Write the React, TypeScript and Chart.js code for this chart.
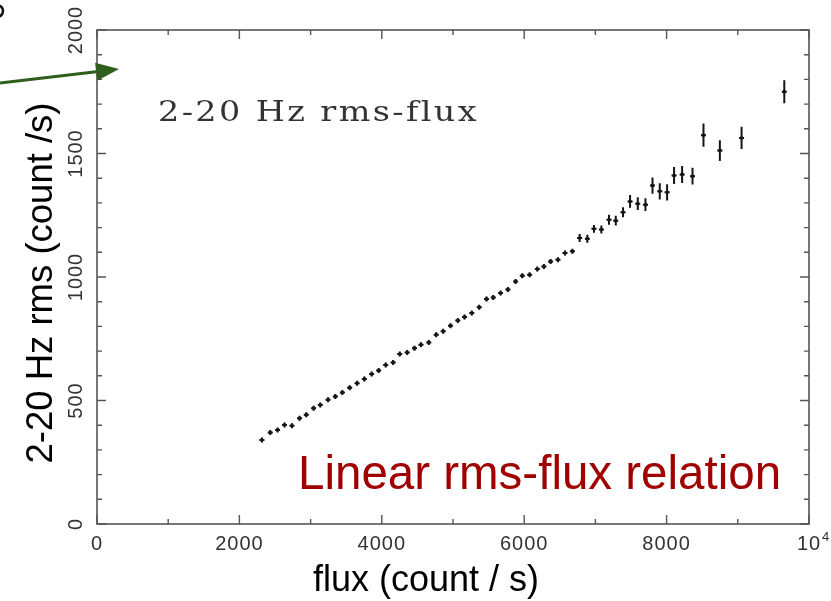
import React, { useEffect, useRef } from 'react';
import { Chart, registerables } from 'chart.js';

Chart.register(...registerables);

// ---- data ----
const flux = [
  2316, 2433, 2536, 2634, 2738, 2845, 2939, 3042, 3136, 3245,
  3347, 3446, 3549, 3653, 3755, 3858, 3956, 4055, 4159, 4252,
  4356, 4459, 4550, 4660, 4764, 4862, 4965, 5068, 5162, 5264,
  5368, 5471, 5565, 5668, 5771, 5879, 5973, 6076, 6184, 6277,
  6371, 6474, 6573, 6677, 6779, 6887, 6980, 7084, 7191, 7286,
  7388, 7487, 7595, 7703, 7802, 7904, 8007, 8105, 8218, 8364,
  8518, 8748, 9053, 9653,
];
const rms = [
  340, 370, 381, 401, 398, 428, 442, 469, 482, 503,
  516, 532, 552, 570, 587, 607, 621, 644, 654, 688,
  694, 712, 726, 735, 766, 780, 803, 824, 838, 854,
  878, 911, 917, 935, 949, 982, 1005, 1009, 1032, 1043,
  1063, 1070, 1097, 1104, 1158, 1155, 1195, 1192, 1232, 1228,
  1262, 1306, 1297, 1293, 1370, 1347, 1343, 1411, 1415, 1408,
  1574, 1512, 1563, 1750,
];
const rmsErr = [
  6, 6, 6, 6, 6, 6, 6, 6, 6, 6,
  6, 6, 6, 6, 6, 6, 6, 6, 6, 6,
  8, 8, 8, 8, 8, 8, 8, 8, 8, 8,
  8, 8, 8, 8, 8, 10, 10, 10, 10, 10,
  10, 10, 10, 10, 16, 16, 16, 16, 20, 20,
  20, 26, 26, 26, 33, 33, 33, 34, 34, 34,
  47, 42, 45, 47,
];

const xTickValues = [0, 2000, 4000, 6000, 8000, 10000];
const xTickLabels = ['0', '2000', '4000', '6000', '8000', '10^4'];
const yTickValues = [0, 500, 1000, 1500, 2000];
const yTickLabels = ['0', '500', '1000', '1500', '2000'];
const xMinorStep = 1000;
const yMinorStep = 100;

const panelLabel = '2-20 Hz rms-flux';
const annotationText = 'Linear rms-flux relation';
const xTitle = 'flux (count / s)';
const yTitle = '2-20 Hz rms (count /s)';

const TICK_FONT = '20px "Liberation Sans", Arial, sans-serif';

const decorPlugin = {
  id: 'decor',
  afterDatasetsDraw(chart: any) {
    const { ctx, chartArea: a } = chart;
    const x = chart.scales.x;
    const y = chart.scales.y;
    ctx.save();

    // error bars + small horizontal marks
    ctx.strokeStyle = '#151515';
    ctx.lineWidth = 2;
    for (let i = 0; i < flux.length; i++) {
      const px = x.getPixelForValue(flux[i]);
      const py = y.getPixelForValue(rms[i]);
      const top = Math.min(y.getPixelForValue(rms[i] + rmsErr[i]), py - 2.5);
      const bot = Math.max(y.getPixelForValue(rms[i] - rmsErr[i]), py + 2.5);
      ctx.beginPath();
      ctx.moveTo(px, top);
      ctx.lineTo(px, bot);
      ctx.moveTo(px - 2.5, py);
      ctx.lineTo(px + 2.5, py);
      ctx.stroke();
    }

    // frame
    ctx.strokeStyle = '#555';
    ctx.lineWidth = 1.6;
    ctx.strokeRect(a.left, a.top, a.right - a.left, a.bottom - a.top);

    // inward ticks on all four sides
    ctx.lineWidth = 1.4;
    ctx.beginPath();
    for (let v = x.min; v <= x.max; v += xMinorStep) {
      const px = x.getPixelForValue(v);
      const len = xTickValues.includes(v) ? 9 : 5;
      ctx.moveTo(px, a.bottom);
      ctx.lineTo(px, a.bottom - len);
      ctx.moveTo(px, a.top);
      ctx.lineTo(px, a.top + len);
    }
    for (let v = y.min; v <= y.max; v += yMinorStep) {
      const py = y.getPixelForValue(v);
      const len = yTickValues.includes(v) ? 9 : 5;
      ctx.moveTo(a.left, py);
      ctx.lineTo(a.left + len, py);
      ctx.moveTo(a.right, py);
      ctx.lineTo(a.right - len, py);
    }
    ctx.stroke();

    // x tick labels
    ctx.fillStyle = '#333';
    ctx.font = TICK_FONT;
    ctx.textAlign = 'center';
    ctx.textBaseline = 'alphabetic';
    (ctx as any).letterSpacing = '1px';
    xTickValues.forEach((v, i) => {
      const px = x.getPixelForValue(v);
      const lab = xTickLabels[i];
      if (lab.includes('^')) {
        const [base, sup] = lab.split('^');
        ctx.textAlign = 'center';
        ctx.fillText(base, px, 550);
        const w = ctx.measureText(base).width;
        ctx.font = '13px "Liberation Sans", Arial, sans-serif';
        ctx.textAlign = 'left';
        ctx.fillText(sup, px + w / 2 + 1, 541);
        ctx.font = TICK_FONT;
        ctx.textAlign = 'center';
      } else {
        ctx.fillText(lab, px, 550);
      }
    });

    // y tick labels (rotated)
    yTickValues.forEach((v, i) => {
      const py = y.getPixelForValue(v);
      ctx.save();
      ctx.translate(82, py);
      ctx.rotate(-Math.PI / 2);
      ctx.textAlign = 'center';
      ctx.fillText(yTickLabels[i], 0, 0);
      ctx.restore();
    });
    (ctx as any).letterSpacing = '0px';

    // axis titles
    ctx.fillStyle = '#000';
    ctx.font = '36px "Liberation Sans", Arial, sans-serif';
    ctx.textAlign = 'center';
    ctx.fillText(xTitle, 426, 591);
    ctx.save();
    ctx.translate(52, 283);
    ctx.rotate(-Math.PI / 2);
    ctx.font = '36.5px "Liberation Sans", Arial, sans-serif';
    ctx.fillText(yTitle, 0, 0);
    ctx.restore();

    // panel label (wide serif)
    ctx.save();
    ctx.fillStyle = '#333';
    ctx.font = '28px "DejaVu Serif", serif';
    ctx.textAlign = 'left';
    (ctx as any).letterSpacing = '2px';
    const natural = ctx.measureText(panelLabel).width;
    ctx.translate(158, 121);
    ctx.scale(321 / natural, 1);
    ctx.fillText(panelLabel, 0, 0);
    ctx.restore();
    (ctx as any).letterSpacing = '0px';

    // red annotation
    ctx.fillStyle = '#a00000';
    ctx.font = '47.5px "Liberation Sans", Arial, sans-serif';
    ctx.textAlign = 'left';
    ctx.fillText(annotationText, 298, 489);

    // green arrow
    const tip = { x: 119, y: 69 };
    const start = { x: 0, y: 83 };
    const ang = Math.atan2(tip.y - start.y, tip.x - start.x);
    const hl = 23;
    const hw = 9;
    const bx = tip.x - hl * Math.cos(ang);
    const by = tip.y - hl * Math.sin(ang);
    ctx.strokeStyle = '#2f5d1c';
    ctx.fillStyle = '#2f5d1c';
    ctx.lineWidth = 3;
    ctx.beginPath();
    ctx.moveTo(start.x, start.y);
    ctx.lineTo(bx, by);
    ctx.stroke();
    ctx.beginPath();
    ctx.moveTo(tip.x, tip.y);
    ctx.lineTo(bx - hw * Math.sin(ang), by + hw * Math.cos(ang));
    ctx.lineTo(bx + hw * Math.sin(ang), by - hw * Math.cos(ang));
    ctx.closePath();
    ctx.fill();

    // small cut-off mark at the top-left corner
    ctx.strokeStyle = '#111';
    ctx.lineWidth = 2.5;
    ctx.beginPath();
    ctx.arc(-3, 11, 6, -Math.PI / 2, Math.PI / 2);
    ctx.stroke();

    ctx.restore();
  },
};

export default function App() {
  const ref = useRef<HTMLCanvasElement | null>(null);

  useEffect(() => {
    if (!ref.current) return;
    const points = flux.map((f, i) => ({ x: f, y: rms[i] }));
    const chart = new Chart(ref.current, {
      type: 'scatter',
      data: {
        datasets: [
          {
            data: points,
            pointStyle: 'rectRot',
            pointRadius: 2.4,
            backgroundColor: '#151515',
            borderColor: '#151515',
            borderWidth: 0,
            showLine: false,
          },
        ],
      },
      options: {
        animation: false,
        responsive: false,
        devicePixelRatio: 1,
        layout: { padding: { top: 30, right: 22, bottom: 0, left: 0 } },
        plugins: { legend: { display: false }, tooltip: { enabled: false } },
        scales: {
          x: {
            type: 'linear',
            min: 0,
            max: 10000,
            ticks: { display: false, stepSize: 2000 },
            grid: { display: false },
            border: { display: false },
            afterFit: (s: any) => {
              s.height = 77;
            },
          },
          y: {
            type: 'linear',
            min: 0,
            max: 2000,
            ticks: { display: false, stepSize: 500 },
            grid: { display: false },
            border: { display: false },
            afterFit: (s: any) => {
              s.width = 97;
            },
          },
        },
      },
      plugins: [decorPlugin],
    } as any);
    return () => chart.destroy();
  }, []);

  return (
    <div style={{ position: 'absolute', left: 0, top: 0, width: 831, height: 601, background: '#fff' }}>
      <canvas ref={ref} width={831} height={601} style={{ display: 'block' }} />
    </div>
  );
}
